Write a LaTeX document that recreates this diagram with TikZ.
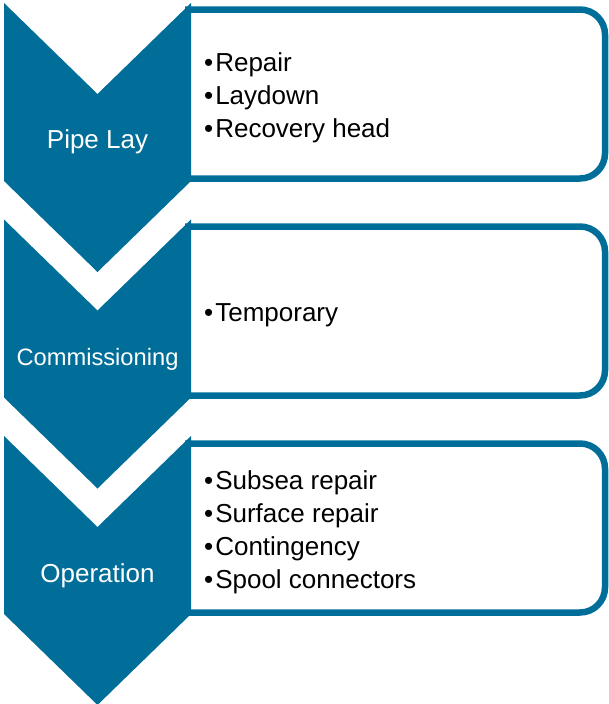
\documentclass[tikz,border=0pt]{standalone}
\usepackage{fontspec}
\setmainfont{Liberation Sans}
\definecolor{pipeblue}{RGB}{0,110,152}
\newcommand{\itm}{•\kern2pt}
\begin{document}
\begin{tikzpicture}[x=1pt,y=-1pt,
        chevron/.style={fill=pipeblue},
        panel/.style={draw=pipeblue,line width=6.5pt,rounded corners=25pt},
        phase/.style={text=white,anchor=base,inner sep=0pt,font=\fontsize{26}{31}\selectfont},
        items/.style={align=left,anchor=west,inner sep=0pt,font=\fontsize{26}{33}\selectfont}]
        \useasboundingbox (0,0) rectangle (609,704);

        % panels behind the chevrons
        \draw[panel] (185,9.5) -- (605,9.5) -- (605,178.5) -- (185,178.5);
        \draw[panel] (185,226.5) -- (605,226.5) -- (605,395.5) -- (185,395.5);
        \draw[panel] (185,443.5) -- (605,443.5) -- (605,612.5) -- (185,612.5);

        \fill[chevron] (4,3) -- (97.5,94) -- (191,3) -- (191,181) -- (97.5,272) -- (4,181) -- cycle;
        \fill[chevron] (4,219.5) -- (97.5,310.5) -- (191,219.5) -- (191,397.5) -- (97.5,488.5) -- (4,397.5) -- cycle;
        \fill[chevron] (4,436) -- (97.5,527) -- (191,436) -- (191,614) -- (97.5,705) -- (4,614) -- cycle;

        \node [phase] (lay) at (97.5,148) {Pipe Lay};
        \node [phase,font=\fontsize{23.7}{28}\selectfont] (comm) at (97.5,365) {Commissioning};
        \node [phase] (oper) at (97.5,582) {Operation};

        \node [items] (layitems) at (204,98) {\itm Repair\\\itm Laydown\\\itm Recovery head};
        \node [items] (commitems) at (204,315) {\itm Temporary};
        \node [items] (operitems) at (204,532) {\itm Subsea repair\\\itm Surface repair\\\itm Contingency\\\itm Spool connectors};
\end{tikzpicture}
\end{document}
